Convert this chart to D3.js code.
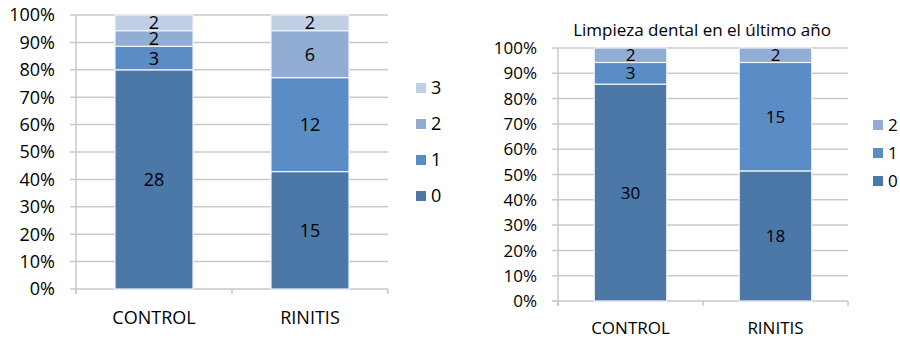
<!DOCTYPE html>
<html>
<head>
<meta charset="utf-8">
<script src="https://cdn.jsdelivr.net/npm/d3@7"></script>
<style>
  html, body { margin: 0; padding: 0; background: #fff; }
  svg { display: block; font-family: "Open Sans", "Noto Sans", sans-serif; font-weight: 500; }
</style>
</head>
<body>
<svg id="chart" width="900" height="340"></svg>
<script>
// Shared categories and percentage ticks
const categories = ["CONTROL", "RINITIS"];
const yTicks = [0, 0.1, 0.2, 0.3, 0.4, 0.5, 0.6, 0.7, 0.8, 0.9, 1];

// Left chart: counts per score (0..3) for each group
const leftKeys = ["0", "1", "2", "3"];
const leftScore0 = [28, 15];
const leftScore1 = [3, 12];
const leftScore2 = [2, 6];
const leftScore3 = [2, 2];

// Right chart: "Limpieza dental en el último año", counts per score (0..2)
const rightTitle = "Limpieza dental en el último año";
const rightKeys = ["0", "1", "2"];
const rightScore0 = [30, 18];
const rightScore1 = [3, 15];
const rightScore2 = [2, 2];

const palette = { "0": "#4b78a7", "1": "#5a8dc5", "2": "#92add4", "3": "#c1cfe5" };

function buildRows(keys, seriesList) {
  return categories.map((cat, i) => {
    const row = { cat };
    keys.forEach((k, j) => { row[k] = seriesList[j][i]; });
    return row;
  });
}

function drawStacked(svg, opt) {
  const rows = buildRows(opt.keys, opt.series);
  const stack = d3.stack().keys(opt.keys).offset(d3.stackOffsetExpand);
  const layers = stack(rows);

  const x = d3.scaleBand().domain(categories).range([opt.x0, opt.x1]).paddingInner(0.5).paddingOuter(0.25);
  const y = d3.scaleLinear().domain([0, 1]).range([opt.y0, opt.y1]);

  const g = svg.append("g");

  // horizontal gridlines with outside tick marks
  g.append("g")
    .selectAll("line")
    .data(yTicks)
    .join("line")
    .attr("x1", opt.x0 - 6)
    .attr("x2", opt.x1)
    .attr("y1", d => y(d))
    .attr("y2", d => y(d))
    .attr("stroke", "#c9c9c9")
    .attr("stroke-width", 1.5);

  // vertical axis line
  g.append("line")
    .attr("x1", opt.x0).attr("x2", opt.x0)
    .attr("y1", y(1)).attr("y2", y(0) + 5)
    .attr("stroke", "#c9c9c9").attr("stroke-width", 1.5);

  // category boundary ticks below the baseline
  const bounds = [opt.x0, (opt.x0 + opt.x1) / 2, opt.x1];
  g.append("g").selectAll("line").data(bounds).join("line")
    .attr("x1", d => d).attr("x2", d => d)
    .attr("y1", y(0)).attr("y2", y(0) + 5)
    .attr("stroke", "#c9c9c9").attr("stroke-width", 1.5);

  // y tick labels
  g.append("g")
    .selectAll("text")
    .data(yTicks)
    .join("text")
    .attr("x", opt.x0 - 21)
    .attr("y", d => y(d))
    .attr("dy", "0.36em")
    .attr("text-anchor", "end")
    .attr("font-size", opt.fontSize)
    .attr("fill", "#000")
    .text(d3.format(".0%"));

  // stacked segments
  const layerG = g.append("g")
    .selectAll("g")
    .data(layers)
    .join("g")
    .attr("fill", d => palette[d.key]);

  layerG.selectAll("rect")
    .data(d => d)
    .join("rect")
    .attr("x", d => x(d.data.cat))
    .attr("width", x.bandwidth())
    .attr("y", d => y(d[1]))
    .attr("height", d => y(d[0]) - y(d[1]))
    .attr("stroke", "#f0f4fa")
    .attr("stroke-width", 1.2);

  // value labels centred in each segment
  layerG.selectAll("text")
    .data(d => d.map(v => ({ v, key: d.key })))
    .join("text")
    .attr("x", d => x(d.v.data.cat) + x.bandwidth() / 2)
    .attr("y", d => (y(d.v[0]) + y(d.v[1])) / 2)
    .attr("dy", "0.36em")
    .attr("text-anchor", "middle")
    .attr("font-size", opt.fontSize)
    .attr("fill", "#000")
    .text(d => d.v.data[d.key]);

  // category labels
  g.append("g")
    .selectAll("text")
    .data(categories)
    .join("text")
    .attr("x", d => x(d) + x.bandwidth() / 2)
    .attr("y", opt.catY)
    .attr("dy", "0.36em")
    .attr("text-anchor", "middle")
    .attr("font-size", opt.fontSize)
    .attr("fill", "#000")
    .text(d => d);

  // legend, highest score on top
  const legendKeys = opt.keys.slice().reverse();
  const leg = g.append("g")
    .selectAll("g")
    .data(legendKeys)
    .join("g")
    .attr("transform", (d, i) => `translate(${opt.legX},${opt.legY + i * opt.legStep})`);
  leg.append("rect")
    .attr("x", 0).attr("y", -5)
    .attr("width", 10).attr("height", 10)
    .attr("fill", d => palette[d]);
  leg.append("text")
    .attr("x", 15).attr("y", 0).attr("dy", "0.36em")
    .attr("font-size", opt.fontSize)
    .attr("fill", "#000")
    .text(d => d);

  if (opt.title) {
    g.append("text")
      .attr("x", opt.titleX).attr("y", opt.titleY).attr("dy", "0.36em")
      .attr("text-anchor", "middle")
      .attr("font-size", opt.titleSize)
      .attr("fill", "#000")
      .text(opt.title);
  }
}

const svg = d3.select("#chart");

drawStacked(svg, {
  keys: leftKeys,
  series: [leftScore0, leftScore1, leftScore2, leftScore3],
  x0: 76, x1: 388, y0: 289, y1: 15,
  fontSize: 18, catY: 318,
  legX: 416, legY: 88, legStep: 36
});

drawStacked(svg, {
  keys: rightKeys,
  series: [rightScore0, rightScore1, rightScore2],
  x0: 558, x1: 848, y0: 301, y1: 48,
  fontSize: 17, catY: 328,
  legX: 873, legY: 125, legStep: 28,
  title: rightTitle, titleX: 702, titleY: 30, titleSize: 17
});
</script>
</body>
</html>
